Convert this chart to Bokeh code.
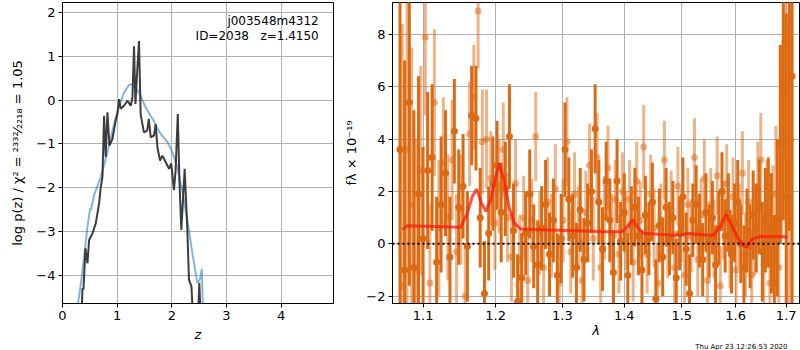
from bokeh.plotting import figure
from bokeh.layouts import row
from bokeh.models import Range1d, FixedTicker, Label, Span, PrintfTickFormatter, Title
from bokeh.embed import file_html
from bokeh.resources import INLINE

# ---------------- left panel: log p(z) ----------------
blue_z = [0.285, 0.347, 0.395, 0.457, 0.505, 0.52, 0.578, 0.70, 0.823, 0.944, 1.035, 1.126,
          1.218, 1.28, 1.40, 1.523, 1.614, 1.66, 1.706, 1.797, 1.92, 2.01, 2.10, 2.19,
          2.285, 2.377, 2.468, 2.516, 2.55, 2.575]
blue_p = [-4.64, -4.10, -3.58, -2.90, -2.48, -2.52, -2.17, -1.76, -1.19, -0.55, -0.13, 0.17,
          0.35, 0.36, 0.17, -0.17, -0.36, -0.45, -0.58, -0.77, -0.96, -1.19, -1.53, -2.06,
          -2.74, -3.50, -4.18, -4.10, -3.86, -5.00]

black_z = [0.347, 0.366, 0.384, 0.42, 0.457, 0.487, 0.548, 0.609, 0.67, 0.70, 0.731, 0.761,
           0.79, 0.823, 0.859, 0.914, 0.974, 1.005, 1.035, 1.066, 1.126, 1.188, 1.249, 1.28,
           1.309, 1.335, 1.371, 1.40, 1.43, 1.49, 1.55, 1.58, 1.614, 1.675, 1.706, 1.737,
           1.785, 1.828, 1.89, 1.95, 1.99, 2.04, 2.07, 2.11, 2.14, 2.175, 2.236, 2.285,
           2.315, 2.36, 2.39, 2.48, 2.504, 2.53]
black_p = [-5.00, -4.30, -4.33, -3.39, -3.73, -3.20, -3.05, -2.82, -2.36, -1.99, -1.76, -0.36,
           -1.30, -0.28, -1.04, -0.89, -0.47, -0.32, 0.02, -0.20, -0.13, -0.02, -0.13, 0.06,
           1.23, -0.09, 0.74, 1.35, -0.32, -0.74, -0.70, -0.43, -0.85, -0.81, -0.55, -1.08,
           -1.38, -1.27, -1.42, -1.57, -1.45, -2.06, -1.61, -0.32, -1.85, -2.97, -1.57, -2.97,
           -4.11, -4.26, -5.00, -5.00, -4.18, -5.00]

z_ticks = [0, 1, 2, 3, 4]
p_ticks = [-4, -3, -2, -1, 0, 1, 2]
field_name = "j003548m4312"
id_text = "ID=2038\u00a0\u00a0\u00a0z=1.4150"

# ---------------- right panel: spectrum ----------------
dark_lam = [1.070, 1.076, 1.082, 1.088, 1.094, 1.100, 1.106, 1.112, 1.118, 1.124, 1.130, 1.136,
            1.142, 1.148, 1.154, 1.160, 1.166, 1.172, 1.178, 1.184, 1.190, 1.196, 1.202, 1.208,
            1.214, 1.220, 1.226, 1.232, 1.238, 1.244, 1.250, 1.256, 1.262, 1.268, 1.274, 1.280,
            1.286, 1.292, 1.298, 1.304, 1.310, 1.316, 1.322, 1.328, 1.334, 1.340, 1.346, 1.352,
            1.358, 1.364, 1.370, 1.376, 1.382, 1.388, 1.394, 1.400, 1.406, 1.412, 1.418, 1.424,
            1.430, 1.436, 1.442, 1.448, 1.454, 1.460, 1.466, 1.472, 1.478, 1.484, 1.490, 1.496,
            1.502, 1.508, 1.514, 1.520, 1.526, 1.532, 1.538, 1.544, 1.550, 1.556, 1.562, 1.568,
            1.574, 1.580, 1.586, 1.592, 1.598, 1.604, 1.610, 1.616, 1.622, 1.628, 1.634, 1.640,
            1.646, 1.652, 1.658, 1.664, 1.670, 1.676, 1.682, 1.688, 1.694, 1.700, 1.706, 1.712]
dark_flux = [3.6, -1.0, 5.4, -0.9, 1.9, 0.2, 2.8, 3.3, -0.7, 1.5, 2.7, -0.5,
             4.3, 1.4, 2.2, -0.1, 4.9, 4.8, 1.0, -1.9, 0.4, 2.3, 3.0, 1.2,
             2.1, 4.1, 0.5, -2.2, -1.3, 0.4, 1.9, -0.1, -0.8, 0.6, 1.5, -0.4,
             0.9, -1.2, 0.2, 3.6, 1.7, 0.3, -0.9, 1.3, -0.6, 0.8, 2.0, 4.4,
             1.6, -0.2, 2.4, 0.9, -1.1, 2.4, 0.1, 1.2, -1.2, 0.7, 1.4, 0.3,
             -1.0, 1.1, 0.2, 1.6, -2.1, 0.7, -0.5, 1.4, 0.2, 1.0, -1.3, 0.4,
             1.8, -0.2, -1.9, 0.9, 1.5, 0.5, -0.6, 1.2, 0.1, 1.0, -0.8, 0.6,
             2.0, 0.3, 1.2, -0.4, 0.8, 1.6, 0.0, -0.9, 0.5, -0.1, 1.1, 0.6,
             1.4, -0.3, 0.9, 1.2, 0.4, -1.5, 1.0, 3.8, 5.9, 1.8, 9.5, 6.4]
dark_err = [9.0, 8.0, 7.0, 6.0, 4.5, 3.5, 3.0, 2.8, 2.5, 2.6, 2.4, 2.3,
            2.0, 2.2, 2.0, 2.1, 1.9, 2.0, 1.9, 2.0, 1.8, 1.8, 1.7, 1.9,
            1.8, 2.0, 1.8, 1.8, 1.7, 1.6, 1.7, 1.6, 1.7, 1.6, 1.7, 1.6,
            1.6, 1.6, 1.7, 1.8, 1.6, 1.6, 1.7, 1.6, 1.6, 1.5, 1.6, 1.7,
            1.6, 1.6, 1.5, 1.6, 1.5, 1.6, 1.5, 1.5, 1.6, 1.5, 1.5, 1.5,
            1.5, 1.5, 1.4, 1.5, 1.5, 1.4, 1.5, 1.5, 1.4, 1.4, 1.5, 1.4,
            1.5, 1.4, 1.5, 1.4, 1.5, 1.4, 1.4, 1.5, 1.4, 1.4, 1.5, 1.4,
            1.5, 1.4, 1.5, 1.5, 1.5, 1.6, 1.5, 1.6, 1.6, 1.6, 1.7, 1.7,
            1.8, 1.9, 2.0, 2.1, 2.3, 2.6, 3.0, 3.8, 5.0, 7.0, 9.0, 10.0]

light_lam = [1.073, 1.079, 1.085, 1.091, 1.097, 1.103, 1.109, 1.115, 1.121, 1.127, 1.133, 1.139,
             1.145, 1.151, 1.157, 1.163, 1.169, 1.175, 1.181, 1.187, 1.193, 1.199, 1.205, 1.211,
             1.217, 1.223, 1.229, 1.235, 1.241, 1.247, 1.253, 1.259, 1.265, 1.271, 1.277, 1.283,
             1.289, 1.295, 1.301, 1.307, 1.313, 1.319, 1.325, 1.331, 1.337, 1.343, 1.349, 1.355,
             1.361, 1.367, 1.373, 1.379, 1.385, 1.391, 1.397, 1.403, 1.409, 1.415, 1.421, 1.427,
             1.433, 1.439, 1.445, 1.451, 1.457, 1.463, 1.469, 1.475, 1.481, 1.487, 1.493, 1.499,
             1.505, 1.511, 1.517, 1.523, 1.529, 1.535, 1.541, 1.547, 1.553, 1.559, 1.565, 1.571,
             1.577, 1.583, 1.589, 1.595, 1.601, 1.607, 1.613, 1.619, 1.625, 1.631, 1.637, 1.643,
             1.649, 1.655, 1.661, 1.667, 1.673, 1.679, 1.685, 1.691, 1.697, 1.703, 1.709]
light_flux = [-1.6, 3.6, 1.5, -1.0, 2.8, 7.9, -1.5, 5.4, 0.6, 3.1, 1.0, 3.2,
              -0.3, 1.3, -2.0, 4.2, 5.6, 8.9, 3.9, 4.0, 2.5, 0.8, 2.2, 3.6,
              1.0, -0.5, 2.3, -0.6, 1.0, -1.4, 0.9, 4.1, 0.4, -0.9, 1.6, 0.3,
              2.1, -1.5, 0.9, 3.9, -0.3, 1.9, 0.6, -1.4, 1.2, 3.0, 0.2, 3.3,
              -0.9, 1.0, 2.9, 0.4, 1.7, -0.4, 2.0, 0.5, 1.7, -0.7, 2.4, 0.9,
              3.7, -0.4, 1.9, 0.6, -1.5, 0.9, 3.2, 0.1, 1.3, -0.9, 2.2, 0.7,
              -1.2, 1.5, 0.3, 3.3, -0.6, 1.1, 2.5, -1.4, 1.5, 0.2, 2.6, -1.6,
              0.9, 2.3, -0.2, 1.8, -1.0, 0.7, 2.7, -0.4, 1.6, -1.2, 0.5, 2.1,
              3.2, -0.8, 1.2, -1.5, 0.6, 1.9, -0.9, 3.8, 7.7, 1.8, 4.0]
light_err = [10.0, 8.0, 6.0, 5.0, 4.0, 3.0, 3.0, 2.8, 2.6, 2.5, 2.4, 2.3,
             2.2, 2.1, 2.0, 2.0, 2.0, 2.2, 2.0, 1.9, 1.8, 1.8, 1.8, 1.8,
             1.7, 1.7, 1.7, 1.7, 1.6, 1.7, 1.6, 1.7, 1.6, 1.6, 1.7, 1.6,
             1.7, 1.6, 1.6, 1.7, 1.6, 1.6, 1.6, 1.6, 1.6, 1.6, 1.6, 1.7,
             1.5, 1.6, 1.6, 1.5, 1.5, 1.5, 1.5, 1.5, 1.5, 1.5, 1.5, 1.5,
             1.6, 1.5, 1.5, 1.5, 1.5, 1.4, 1.5, 1.4, 1.5, 1.4, 1.5, 1.4,
             1.5, 1.4, 1.4, 1.5, 1.4, 1.4, 1.5, 1.4, 1.4, 1.5, 1.5, 1.5,
             1.5, 1.5, 1.5, 1.5, 1.5, 1.6, 1.6, 1.6, 1.6, 1.7, 1.7, 1.8,
             1.8, 1.9, 2.0, 2.2, 2.4, 2.6, 3.0, 3.6, 4.5, 6.5, 9.0]

model_lam = [1.0732, 1.0796, 1.1509, 1.1600, 1.1669, 1.1730, 1.1797, 1.1860, 1.1930, 1.2000,
             1.2053, 1.2120, 1.2193, 1.2266, 1.2365, 1.2665, 1.3180, 1.3717, 1.3964, 1.4060,
             1.4150, 1.4237, 1.4333, 1.4850, 1.5000, 1.5094, 1.5250, 1.5580, 1.5710, 1.5817,
             1.5898, 1.6027, 1.6124, 1.6208, 1.6319, 1.6482, 1.6980, 1.7018]
model_flux = [0.54, 0.69, 0.63, 1.18, 1.81, 2.09, 1.56, 1.24, 1.68, 2.57,
              3.07, 2.44, 1.43, 0.80, 0.57, 0.54, 0.50, 0.46, 0.46, 0.68,
              0.93, 0.59, 0.40, 0.33, 0.34, 0.40, 0.37, 0.32, 0.68, 1.12,
              0.81, 0.27, -0.03, -0.12, 0.18, 0.28, 0.27, 0.22]

lam_ticks = [1.1, 1.2, 1.3, 1.4, 1.5, 1.6, 1.7]
f_ticks = [-2, 0, 2, 4, 6, 8]
timestamp = "Thu Apr 23 12:26:53 2020"

FONT = "DejaVu Sans"
ORANGE = "#dc6a12"


def style(p):
    p.outline_line_color = "black"
    p.outline_line_alpha = 1
    p.outline_line_width = 1
    p.background_fill_color = "white"
    p.border_fill_color = "white"
    for ax in p.axis:
        ax.major_tick_in = 0
        ax.major_tick_out = 4
        ax.minor_tick_line_color = None
        ax.axis_line_color = "black"
        ax.major_tick_line_color = "black"
        ax.major_label_text_color = "black"
        ax.major_label_text_font = FONT
        ax.major_label_text_font_size = "13px"
        ax.major_label_standoff = 3
        ax.axis_label_text_font = FONT
        ax.axis_label_text_font_size = "13px"
        ax.axis_label_text_color = "black"
        ax.axis_label_standoff = 4
    p.grid.grid_line_color = "#b0b0b0"
    p.grid.grid_line_alpha = 1
    p.grid.grid_line_width = 1


# left figure
p1 = figure(width=337, height=350, output_backend="svg", toolbar_location=None,
            x_range=Range1d(0, 4.96), y_range=Range1d(-4.65, 2.23),
            min_border_left=62, min_border_right=4, min_border_top=2, min_border_bottom=46)
p1.line(blue_z, blue_p, line_color="#1f77b4", line_alpha=0.55, line_width=2)
p1.line(black_z, black_p, line_color="#333333", line_alpha=0.95, line_width=2)
p1.xaxis.ticker = FixedTicker(ticks=z_ticks)
p1.yaxis.ticker = FixedTicker(ticks=p_ticks)
p1.xaxis.axis_label = "z"
p1.yaxis.axis_label = "log p(z) / χ² = ²³³²⁄₂₂₁₈ = 1.05"
style(p1)
p1.xaxis.axis_label_text_font_style = "italic"
p1.yaxis.axis_label_text_font_style = "normal"
p1.yaxis.axis_label_standoff = 8
p1.add_layout(Label(x=4.69, y=1.80, text=field_name, text_align="right", text_baseline="middle",
                    text_font=FONT, text_font_size="12px", text_color="black"))
p1.add_layout(Label(x=4.69, y=1.47, text=id_text, text_align="right", text_baseline="middle",
                    text_font=FONT, text_font_size="12px", text_color="black"))

# right figure
p2 = figure(width=463, height=350, output_backend="svg", toolbar_location=None,
            x_axis_type="log", x_range=Range1d(1.0604, 1.7273), y_range=Range1d(-2.28, 9.22),
            min_border_left=55, min_border_right=1, min_border_top=2, min_border_bottom=46)

light_lo = [f - e for f, e in zip(light_flux, light_err)]
light_hi = [f + e for f, e in zip(light_flux, light_err)]
dark_lo = [f - e for f, e in zip(dark_flux, dark_err)]
dark_hi = [f + e for f, e in zip(dark_flux, dark_err)]

p2.segment(x0=light_lam, y0=light_lo, x1=light_lam, y1=light_hi,
           line_color=ORANGE, line_alpha=0.5, line_width=3)
p2.scatter(light_lam, light_flux, size=7, fill_color=ORANGE, fill_alpha=0.5, line_color=None)
p2.segment(x0=dark_lam, y0=dark_lo, x1=dark_lam, y1=dark_hi,
           line_color=ORANGE, line_alpha=1.0, line_width=3)
p2.scatter(dark_lam, dark_flux, size=7, fill_color=ORANGE, fill_alpha=1.0, line_color=None)
p2.line(model_lam, model_flux, line_color="#ff1a0a", line_alpha=0.75, line_width=3)
p2.add_layout(Span(location=0, dimension="width", line_color="black", line_width=2,
                   line_dash="2 3"))

p2.xaxis.ticker = FixedTicker(ticks=lam_ticks)
p2.xaxis.formatter = PrintfTickFormatter(format="%.1f")
p2.yaxis.ticker = FixedTicker(ticks=f_ticks)
p2.xaxis.axis_label = "λ"
p2.yaxis.axis_label = "fλ × 10⁻¹⁹"
style(p2)
p2.xaxis.axis_label_text_font_style = "italic"
p2.yaxis.axis_label_text_font_style = "normal"
p2.xaxis.axis_label_standoff = 0
p2.add_layout(Title(text=timestamp, align="right", offset=12, standoff=0,
                    text_font=FONT, text_font_size="7px", text_font_style="normal",
                    text_color="black"), "below")

layout = row(p1, p2)
open("out.html", "w").write(file_html(layout, INLINE))
